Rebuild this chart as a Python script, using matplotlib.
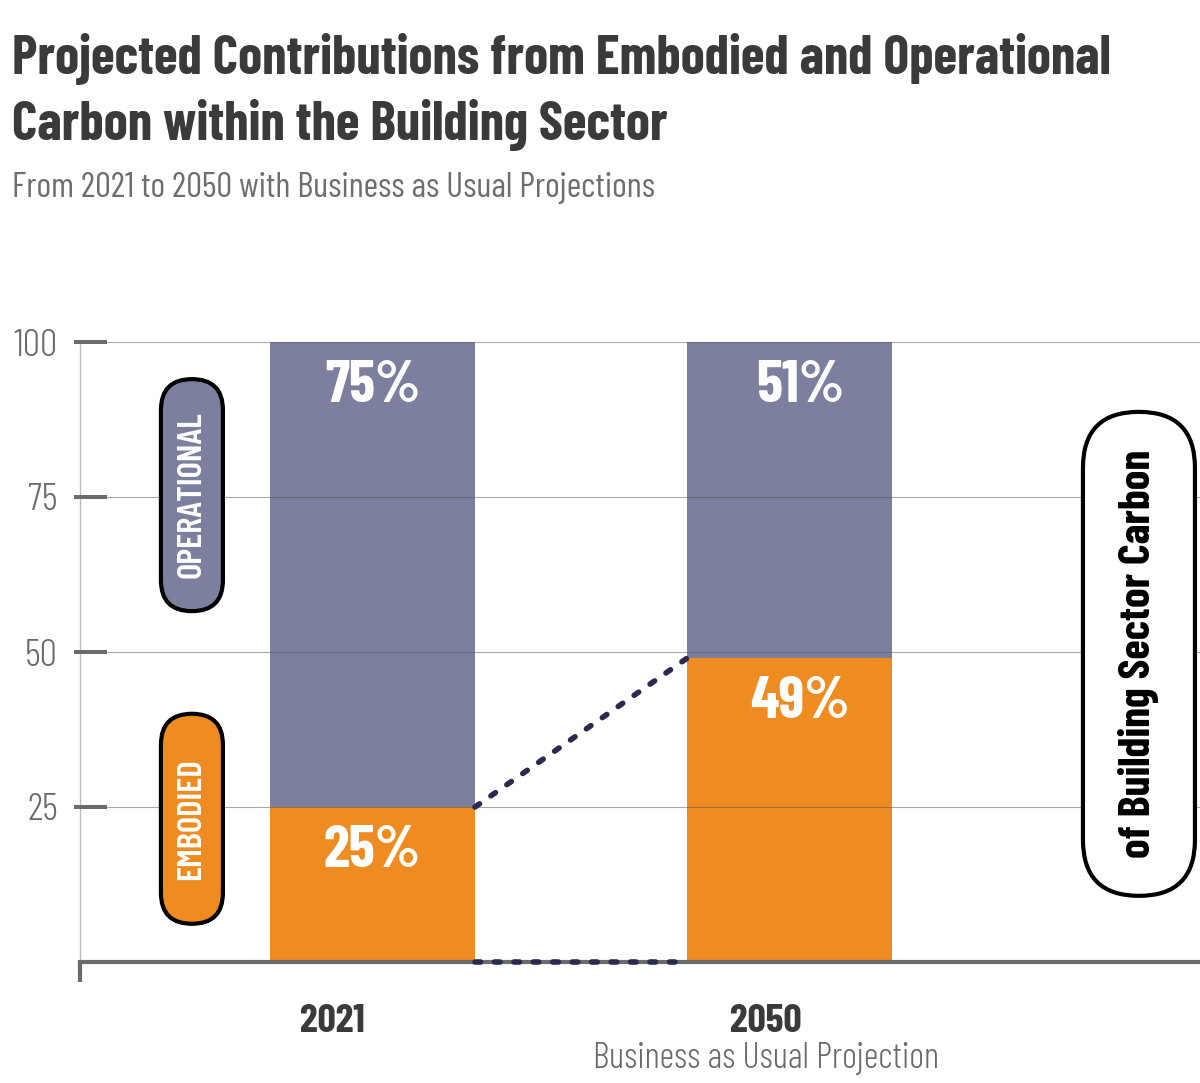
import matplotlib
matplotlib.use("Agg")
import matplotlib.pyplot as plt
import numpy as np
from matplotlib.patches import FancyBboxPatch
from matplotlib.transforms import IdentityTransform
from matplotlib.ticker import FixedLocator

# ---------------- data ----------------
years = ["2021", "2050"]
year_notes = ["", "Business as Usual Projection"]
embodied = [25, 49]
operational = [75, 51]
y_ticks = [25, 50, 75, 100]
y_tick_labels = ["25", "50", "75", "100"]

title = "Projected Contributions from Embodied and Operational\nCarbon within the Building Sector"
subtitle = "From 2021 to 2050 with Business as Usual Projections"

# ---------------- style ----------------
FONT = ["Barlow Condensed", "Roboto Condensed", "DejaVu Sans"]
plt.rcParams["font.family"] = FONT
ORANGE = "#ee8b21"
SLATE = "#7c809e"
DARK = "#3a3a3c"
GREY = "#6b6b6b"
DOT = "#2b2950"

W, H, DPI = 1200, 1083, 100
fig = plt.figure(figsize=(W / DPI, H / DPI), dpi=DPI)
fig.patch.set_facecolor("white")

ax = fig.add_axes([80 / W, (H - 962) / H, 1120 / W, 620 / H])
x = np.arange(len(years))
bw = 0.4916
ax.set_xlim(-0.7014, 1.9844)
ax.set_ylim(0, 100)

ax.bar(x, embodied, width=bw, color=ORANGE, zorder=1)
ax.bar(x, operational, bottom=embodied, width=bw, color=SLATE, zorder=1)

# grid
ax.set_axisbelow(False)
ax.yaxis.grid(True, color="#555555", alpha=0.5, lw=0.8, zorder=2)
ax.xaxis.grid(False)

# spines
for s in ("top", "right"):
    ax.spines[s].set_visible(False)
ax.spines["left"].set_color("#bdbdbd")
ax.spines["left"].set_linewidth(1.0)
ax.spines["bottom"].set_color(GREY)
ax.spines["bottom"].set_linewidth(3.0)
ax.spines["bottom"].set_zorder(3)

# y ticks
ax.set_yticks(y_ticks, labels=y_tick_labels)
ax.yaxis.set_minor_locator(FixedLocator(y_ticks))
ax.yaxis.remove_overlapping_locs = False
ax.tick_params(axis="y", which="major", direction="in", length=19.4, width=2.9,
               color=GREY, pad=16, labelsize=28, labelcolor=GREY)
ax.tick_params(axis="y", which="minor", direction="out", length=4.3, width=2.9,
               color=GREY)
for lab in ax.get_yticklabels():
    lab.set_fontweight(300)

# x labels
offs = np.array([-0.095, -0.056])
ax.set_xticks(x + offs, labels=years)
ax.tick_params(axis="x", length=0, pad=30.5, labelsize=29, labelcolor=DARK)
for lab in ax.get_xticklabels():
    lab.set_fontweight(700)
for xi, dx, note in zip(x, offs, year_notes):
    if note:
        ax.annotate(note, xy=(xi + dx, 0), xycoords=("data", "axes fraction"),
                    xytext=(0, -76.3), textcoords="offset points",
                    ha="center", va="baseline", fontsize=26, fontweight=300,
                    color=GREY, annotation_clip=False)

# small downward stub at axis corner
ax.plot([0, 0], [0, -20 / 620], transform=ax.transAxes, color=GREY, lw=3.0,
        clip_on=False, solid_capstyle="butt", zorder=3)

# percentage labels
label_dx = [0.0, 0.025]
for xi, e, o, dx in zip(x, embodied, operational, label_dx):
    ax.text(xi + dx, e - 9.7, f"{e}%", ha="center", va="baseline", color="white",
            fontsize=42.5, fontweight=700, zorder=5)
    ax.text(xi + dx, e + o - 9.7, f"{o}%", ha="center", va="baseline", color="white",
            fontsize=42.5, fontweight=700, zorder=5)

# dotted connectors
xr = x[0] + bw / 2
xl = x[1] - bw / 2
for y0, y1 in ((embodied[0], embodied[1]), (0, 0)):
    ax.plot([xr, xl], [y0, y1], color=DOT, lw=4.0, linestyle=(0, (1.0, 2.5)),
            dash_capstyle="round", clip_on=False, zorder=6)

# pills
def pill(cx, cy, wpx, hpx, face, text, tcolor, tsize, tweight):
    px, py = ax.transData.transform((cx, cy))
    p = FancyBboxPatch((px - wpx / 2, py - hpx / 2), wpx, hpx,
                       boxstyle=f"round,pad=0,rounding_size={wpx / 2}",
                       transform=IdentityTransform(), facecolor=face,
                       edgecolor="black", linewidth=3.0, zorder=7)
    fig.add_artist(p)
    fig.text(px / W, py / H, text, rotation=90, ha="center", va="center",
             rotation_mode="anchor", color=tcolor, fontsize=tsize,
             fontweight=tweight, zorder=8)

pill(-0.433, 75.3, 62, 232, SLATE, "OPERATIONAL", "white", 25, 600)
pill(-0.433, 23.1, 62, 210, ORANGE, "EMBODIED", "white", 25, 600)
pill(1.838, 49.7, 112, 484, "white", "of Building Sector Carbon", "black", 32, 700)

# titles
lines = title.split("\n")
fig.text(12 / W, 1 - 74 / H, lines[0], ha="left", va="baseline",
         fontsize=39.2, fontweight=700, color=DARK)
fig.text(12 / W, 1 - 140 / H, lines[1], ha="left", va="baseline",
         fontsize=39.2, fontweight=700, color=DARK)
fig.text(12 / W, 1 - 197 / H, subtitle, ha="left", va="baseline",
         fontsize=25.4, fontweight=400, color="#6e6e6e")

fig.savefig("out.png", dpi=DPI, facecolor="white")
